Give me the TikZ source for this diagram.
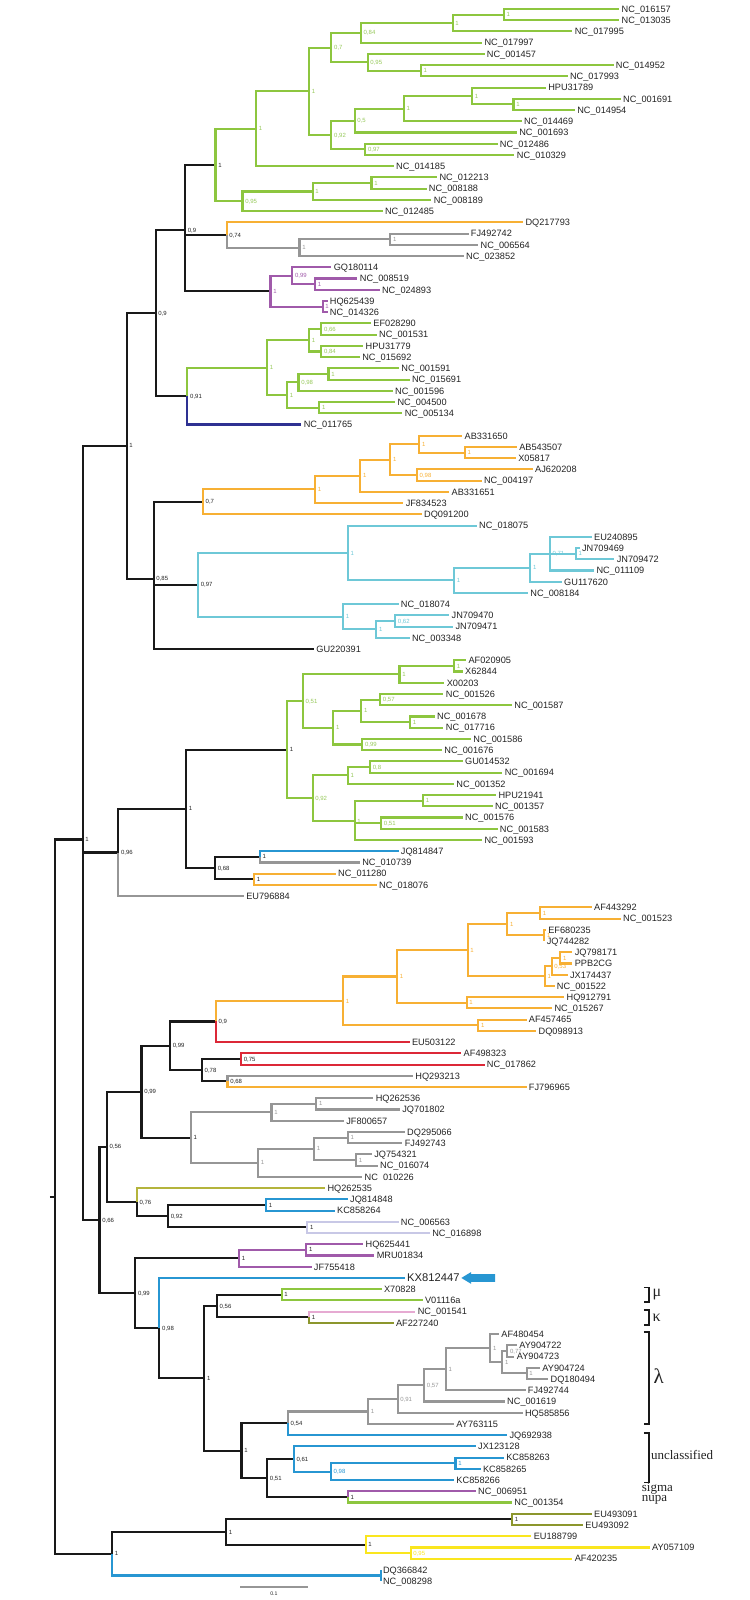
\documentclass[tikz,border=0pt]{standalone}
\usepackage{fontspec}
\setmainfont{Liberation Sans}
\newfontfamily\serifx{Liberation Serif}
\definecolor{cG}{RGB}{141,198,63}
\definecolor{cGl}{RGB}{150,200,90}
\definecolor{cO}{RGB}{247,176,52}
\definecolor{cGr}{RGB}{150,150,150}
\definecolor{cP}{RGB}{160,90,170}
\definecolor{cN}{RGB}{46,49,146}
\definecolor{cC}{RGB}{110,200,215}
\definecolor{cB}{RGB}{39,150,210}
\definecolor{cR}{RGB}{220,40,55}
\definecolor{cOl}{RGB}{140,150,45}
\definecolor{cK}{RGB}{180,180,60}
\definecolor{cL}{RGB}{200,200,230}
\definecolor{cPk}{RGB}{230,170,210}
\definecolor{cY}{RGB}{250,230,30}
\definecolor{cK0}{RGB}{25,25,25}
\definecolor{cT}{RGB}{35,35,35}
\newcommand\PhLeaf[4]{\node[lf] (#1) at (#2,#3) {#4};}
\newcommand\PhNode[5]{\coordinate (#1) at (#2,#3);\node[sl,text=#4] (#1s) at (#1) {#5};}
\newcommand\PhBr[3]{\draw[br,#1] (#2) |- (#3);}
\begin{document}
\begin{tikzpicture}[x=0.24155pt,y=-5.615pt,
  lf/.style={anchor=west,inner xsep=1pt,inner ysep=0pt,text height=3.3pt,text depth=0pt,font=\fontsize{4.6}{5}\selectfont,text=cT},
  sl/.style={anchor=west,inner xsep=1.2pt,inner ysep=0pt,text height=2.1pt,text depth=0pt,font=\fontsize{3}{3.5}\selectfont},
  br/.style={line width=1.05pt},
  brk/.style={line width=0.8pt,cK0},
  grk/.style={anchor=west,inner sep=0pt,font=\serifx\fontsize{8}{9}\selectfont,text=cT},
  grpcap/.style={anchor=west,inner sep=0pt,font=\serifx\fontsize{6.5}{7}\selectfont,text=cT}]
\useasboundingbox (0,0.1986) rectangle (1552.5,142.68);
% ---------------- leaves
\PhLeaf{L1}{1282}{1}{NC\_016157}
\PhLeaf{L2}{1282}{2}{NC\_013035}
\PhLeaf{L3}{1185}{3}{NC\_017995}
\PhLeaf{L4}{998}{4}{NC\_017997}
\PhLeaf{L5}{1003}{5}{NC\_001457}
\PhLeaf{L6}{1270}{6}{NC\_014952}
\PhLeaf{L7}{1175}{7}{NC\_017993}
\PhLeaf{L8}{1130}{8}{HPU31789}
\PhLeaf{L9}{1285}{9}{NC\_001691}
\PhLeaf{L10}{1190}{10}{NC\_014954}
\PhLeaf{L11}{1080}{11}{NC\_014469}
\PhLeaf{L12}{1070}{12}{NC\_001693}
\PhLeaf{L13}{1030}{13}{NC\_012486}
\PhLeaf{L14}{1065}{14}{NC\_010329}
\PhLeaf{L15}{815}{15}{NC\_014185}
\PhLeaf{L16}{905}{16}{NC\_012213}
\PhLeaf{L17}{883}{17}{NC\_008188}
\PhLeaf{L18}{893}{18}{NC\_008189}
\PhLeaf{L19}{792}{19}{NC\_012485}
\PhLeaf{L20}{1083}{20}{DQ217793}
\PhLeaf{L21}{970}{21}{FJ492742}
\PhLeaf{L22}{990}{22}{NC\_006564}
\PhLeaf{L23}{960}{23}{NC\_023852}
\PhLeaf{L24}{686}{24}{GQ180114}
\PhLeaf{L25}{740}{25}{NC\_008519}
\PhLeaf{L26}{786}{26}{NC\_024893}
\PhLeaf{L27}{678}{27}{HQ625439}
\PhLeaf{L28}{678}{28}{NC\_014326}
\PhLeaf{L29}{768}{29}{EF028290}
\PhLeaf{L30}{780}{30}{NC\_001531}
\PhLeaf{L31}{752}{31}{HPU31779}
\PhLeaf{L32}{745}{32}{NC\_015692}
\PhLeaf{L33}{826}{33}{NC\_001591}
\PhLeaf{L34}{848}{34}{NC\_015691}
\PhLeaf{L35}{813}{35}{NC\_001596}
\PhLeaf{L36}{818}{36}{NC\_004500}
\PhLeaf{L37}{833}{37}{NC\_005134}
\PhLeaf{L38}{624}{38}{NC\_011765}
\PhLeaf{L39}{957}{39}{AB331650}
\PhLeaf{L40}{1070}{40}{AB543507}
\PhLeaf{L41}{1068}{41}{X05817}
\PhLeaf{L42}{1103}{42}{AJ620208}
\PhLeaf{L43}{997}{43}{NC\_004197}
\PhLeaf{L44}{930}{44}{AB331651}
\PhLeaf{L45}{835}{45}{JF834523}
\PhLeaf{L46}{873}{46}{DQ091200}
\PhLeaf{L47}{987}{47}{NC\_018075}
\PhLeaf{L48}{1225}{48}{EU240895}
\PhLeaf{L49}{1200}{49}{JN709469}
\PhLeaf{L50}{1272}{50}{JN709472}
\PhLeaf{L51}{1230}{51}{NC\_011109}
\PhLeaf{L52}{1163}{52}{GU117620}
\PhLeaf{L53}{1093}{53}{NC\_008184}
\PhLeaf{L54}{825}{54}{NC\_018074}
\PhLeaf{L55}{930}{55}{JN709470}
\PhLeaf{L56}{938}{56}{JN709471}
\PhLeaf{L57}{848}{57}{NC\_003348}
\PhLeaf{L58}{650}{58}{GU220391}
\PhLeaf{L59}{965}{59}{AF020905}
\PhLeaf{L60}{958}{60}{X62844}
\PhLeaf{L61}{920}{61}{X00203}
\PhLeaf{L62}{918}{62}{NC\_001526}
\PhLeaf{L63}{1060}{63}{NC\_001587}
\PhLeaf{L64}{900}{64}{NC\_001678}
\PhLeaf{L65}{918}{65}{NC\_017716}
\PhLeaf{L66}{975}{66}{NC\_001586}
\PhLeaf{L67}{915}{67}{NC\_001676}
\PhLeaf{L68}{958}{68}{GU014532}
\PhLeaf{L69}{1040}{69}{NC\_001694}
\PhLeaf{L70}{940}{70}{NC\_001352}
\PhLeaf{L71}{1027}{71}{HPU21941}
\PhLeaf{L72}{1020}{72}{NC\_001357}
\PhLeaf{L73}{958}{73}{NC\_001576}
\PhLeaf{L74}{1030}{74}{NC\_001583}
\PhLeaf{L75}{998}{75}{NC\_001593}
\PhLeaf{L76}{825}{76}{JQ814847}
\PhLeaf{L77}{745}{77}{NC\_010739}
\PhLeaf{L78}{695}{78}{NC\_011280}
\PhLeaf{L79}{780}{79}{NC\_018076}
\PhLeaf{L80}{505}{80}{EU796884}
\PhLeaf{L81}{1225}{81}{AF443292}
\PhLeaf{L82}{1285}{82}{NC\_001523}
\PhLeaf{L83}{1130}{83}{EF680235}
\PhLeaf{L84}{1127}{84}{JQ744282}
\PhLeaf{L85}{1185}{85}{JQ798171}
\PhLeaf{L86}{1185}{86}{PPB2CG}
\PhLeaf{L87}{1175}{87}{JX174437}
\PhLeaf{L88}{1148}{88}{NC\_001522}
\PhLeaf{L89}{1168}{89}{HQ912791}
\PhLeaf{L90}{1143}{90}{NC\_015267}
\PhLeaf{L91}{1090}{91}{AF457465}
\PhLeaf{L92}{1110}{92}{DQ098913}
\PhLeaf{L93}{848}{93}{EU503122}
\PhLeaf{L94}{955}{94}{AF498323}
\PhLeaf{L95}{1003}{95}{NC\_017862}
\PhLeaf{L96}{855}{96}{HQ293213}
\PhLeaf{L97}{1090}{97}{FJ796965}
\PhLeaf{L98}{773}{98}{HQ262536}
\PhLeaf{L99}{828}{99}{JQ701802}
\PhLeaf{L100}{712}{100}{JF800657}
\PhLeaf{L101}{838}{101}{DQ295066}
\PhLeaf{L102}{833}{102}{FJ492743}
\PhLeaf{L103}{770}{103}{JQ754321}
\PhLeaf{L104}{782}{104}{NC\_016074}
\PhLeaf{L105}{750}{105}{NC\ \ 010226}
\PhLeaf{L106}{673}{106}{HQ262535}
\PhLeaf{L107}{720}{107}{JQ814848}
\PhLeaf{L108}{693}{108}{KC858264}
\PhLeaf{L109}{825}{109}{NC\_006563}
\PhLeaf{L110}{890}{110}{NC\_016898}
\PhLeaf{L111}{752}{111}{HQ625441}
\PhLeaf{L112}{775}{112}{MRU01834}
\PhLeaf{L113}{645}{113}{JF755418}
\node[lf,text height=4pt,font=\fontsize{5.6}{6}\selectfont] (L114) at (838,114) {KX812447};
\PhLeaf{L115}{790}{115}{X70828}
\PhLeaf{L116}{875}{116}{V01116a}
\PhLeaf{L117}{860}{117}{NC\_001541}
\PhLeaf{L118}{815}{118}{AF227240}
\PhLeaf{L119}{1033}{119}{AF480454}
\PhLeaf{L120}{1070}{120}{AY904722}
\PhLeaf{L121}{1065}{121}{AY904723}
\PhLeaf{L122}{1118}{122}{AY904724}
\PhLeaf{L123}{1135}{123}{DQ180494}
\PhLeaf{L124}{1088}{124}{FJ492744}
\PhLeaf{L125}{1045}{125}{NC\_001619}
\PhLeaf{L126}{1082}{126}{HQ585856}
\PhLeaf{L127}{940}{127}{AY763115}
\PhLeaf{L128}{1050}{128}{JQ692938}
\PhLeaf{L129}{985}{129}{JX123128}
\PhLeaf{L130}{1043}{130}{KC858263}
\PhLeaf{L131}{995}{131}{KC858265}
\PhLeaf{L132}{940}{132}{KC858266}
\PhLeaf{L133}{985}{133}{NC\_006951}
\PhLeaf{L134}{1060}{134}{NC\_001354}
\PhLeaf{L135}{1225}{135}{EU493091}
\PhLeaf{L136}{1207}{136}{EU493092}
\PhLeaf{L137}{1100}{137}{EU188799}
\PhLeaf{L138}{1345}{138}{AY057109}
\PhLeaf{L139}{1185}{139}{AF420235}
\PhLeaf{L140}{788}{140}{DQ366842}
\PhLeaf{L141}{788}{141}{NC\_008298}
% ---------------- internal nodes
\PhNode{a1}{1043}{1.5}{cGl}{1}
\PhNode{a2}{937}{2.25}{cGl}{1}
\PhNode{a3}{747}{3.125}{cGl}{0,84}
\PhNode{a5}{871}{6.5}{cGl}{1}
\PhNode{a4}{761}{5.75}{cGl}{0,95}
\PhNode{a6}{686}{4.4375}{cGl}{0,7}
\PhNode{b1}{1063}{9.5}{cGl}{1}
\PhNode{b2}{977}{8.75}{cGl}{1}
\PhNode{b3}{836}{9.875}{cGl}{1}
\PhNode{b4}{734}{10.9375}{cGl}{0,5}
\PhNode{b6}{756}{13.5}{cGl}{0,97}
\PhNode{b5}{686}{12.21875}{cGl}{0,92}
\PhNode{a7}{640}{8.328}{cGl}{1}
\PhNode{c1}{530}{11.664}{cGl}{1}
\PhNode{c2}{769}{16.5}{cGl}{1}
\PhNode{c3}{647}{17.25}{cGl}{1}
\PhNode{c4}{502}{18.125}{cGl}{0,95}
\PhNode{c5}{446}{14.894}{cT}{1}
\PhNode{d2}{808}{21.5}{cGr}{1}
\PhNode{d3}{620}{22.25}{cGr}{1}
\PhNode{d1}{469}{21.125}{cT}{0,74}
\PhNode{f2}{652}{25.5}{cP}{1}
\PhNode{f1}{605}{24.75}{cP}{0,99}
\PhNode{f3}{668}{27.5}{cP}{1}
\PhNode{fa}{560}{26.125}{cP}{1}
\PhNode{e}{383}{20.715}{cT}{0,9}
\PhNode{i1}{665}{29.5}{cGl}{0,66}
\PhNode{i2}{665}{31.5}{cGl}{0,84}
\PhNode{i3}{640}{30.5}{cGl}{1}
\PhNode{i4}{680}{33.5}{cGl}{1}
\PhNode{i5}{618}{34.25}{cGl}{0,98}
\PhNode{i6}{661}{36.5}{cGl}{1}
\PhNode{i7}{594}{35.375}{cGl}{1}
\PhNode{ia}{553}{32.94}{cGl}{1}
\PhNode{h}{388}{35.47}{cT}{0,91}
\PhNode{g}{322}{28.09}{cT}{0,9}
\PhNode{o1}{962}{40.5}{cO}{1}
\PhNode{o2}{868}{39.75}{cO}{1}
\PhNode{o3}{863}{42.5}{cO}{0,98}
\PhNode{o4}{808}{41.125}{cO}{1}
\PhNode{o5}{746}{42.5625}{cO}{1}
\PhNode{o6}{652}{43.78}{cO}{1}
\PhNode{o7}{420}{44.89}{cT}{0,7}
\PhNode{cy1}{1192}{49.5}{cC}{1}
\PhNode{cy2}{1138}{49.5}{cC}{0,71}
\PhNode{cy3}{1098}{50.75}{cC}{1}
\PhNode{cy4}{940}{51.875}{cC}{1}
\PhNode{cy5}{720}{49.44}{cC}{1}
\PhNode{cy6}{818}{55.5}{cC}{0,62}
\PhNode{cy7}{779}{56.25}{cC}{1}
\PhNode{cy8}{710}{55.125}{cC}{1}
\PhNode{cy9}{410}{52.28}{cT}{0,97}
\PhNode{k}{318}{51.72}{cT}{0,85}
\PhNode{j}{262}{39.906}{cT}{1}
\PhNode{p1a}{940}{59.5}{cGl}{1}
\PhNode{p1b}{827}{60.25}{cGl}{1}
\PhNode{p2a}{787}{62.5}{cGl}{0,57}
\PhNode{p2b}{849}{64.5}{cGl}{1}
\PhNode{p2c}{748}{63.5}{cGl}{1}
\PhNode{p2d}{750}{66.5}{cGl}{0,99}
\PhNode{p2e}{690}{65}{cGl}{1}
\PhNode{p3}{627}{62.625}{cGl}{0,51}
\PhNode{p4a}{766}{68.5}{cGl}{0,8}
\PhNode{p4b}{720}{69.25}{cGl}{1}
\PhNode{p5a}{876}{71.5}{cGl}{1}
\PhNode{p5b}{789}{73.5}{cGl}{0,51}
\PhNode{p5c}{734}{73.33}{cGl}{1}
\PhNode{p6}{647}{71.29}{cGl}{0,92}
\PhNode{pa}{594}{66.96}{cT}{1}
\PhNode{q1}{538}{76.5}{cT}{1}
\PhNode{q2}{526}{78.5}{cT}{1}
\PhNode{qa}{445}{77.5}{cT}{0,68}
\PhNode{oa}{385}{72.23}{cT}{1}
\PhNode{ma}{245}{76.115}{cT}{0,96}
\PhNode{r1}{1118}{81.5}{cO}{1}
\PhNode{r2}{1127}{83.5}{cO}{1}
\PhNode{r3}{1050}{82.5}{cO}{1}
\PhNode{r4}{1160}{85.5}{cO}{1}
\PhNode{r5}{1142}{86.25}{cO}{0,53}
\PhNode{r6}{1128}{87.125}{cO}{1}
\PhNode{r7}{968}{84.81}{cO}{1}
\PhNode{r8}{966}{89.5}{cO}{1}
\PhNode{r9}{822}{87.16}{cO}{1}
\PhNode{r10}{990}{91.5}{cO}{1}
\PhNode{r11}{710}{89.33}{cO}{1}
\PhNode{y1}{447}{91.16}{cT}{0,9}
\PhNode{z1}{499}{94.5}{cT}{0,75}
\PhNode{z2}{471}{96.5}{cT}{0,68}
\PhNode{y2}{418}{95.5}{cT}{0,78}
\PhNode{x1}{352}{93.33}{cT}{0,99}
\PhNode{g1}{655}{98.5}{cGr}{1}
\PhNode{g2}{562}{99.25}{cGr}{1}
\PhNode{g3}{720}{101.5}{cGr}{1}
\PhNode{g4}{737}{103.5}{cGr}{1}
\PhNode{g5}{650}{102.5}{cGr}{1}
\PhNode{g6}{534}{103.75}{cGr}{1}
\PhNode{x2}{395}{101.5}{cT}{1}
\PhNode{va}{293}{97.42}{cT}{0,99}
\PhNode{w2a}{551}{107.5}{cT}{1}
\PhNode{w2b}{636}{109.5}{cT}{1}
\PhNode{w2}{348}{108.5}{cT}{0,92}
\PhNode{wa}{283}{107.25}{cT}{0,76}
\PhNode{sa}{221}{102.33}{cT}{0,56}
\PhNode{pu1}{634}{111.5}{cT}{1}
\PhNode{pu}{495}{112.25}{cT}{1}
\PhNode{ab1}{583}{115.5}{cT}{1}
\PhNode{ab2}{640}{117.5}{cT}{1}
\PhNode{ab}{449}{116.5}{cT}{0,56}
\PhNode{la1}{1090}{122.5}{cGr}{1}
\PhNode{la2}{1050}{120.5}{cGr}{0,77}
\PhNode{la3}{1040}{121.5}{cGr}{1}
\PhNode{la4}{1015}{120.25}{cGr}{1}
\PhNode{la5}{923}{122.125}{cGr}{1}
\PhNode{la6}{878}{123.56}{cGr}{0,57}
\PhNode{la7}{823}{124.78}{cGr}{0,91}
\PhNode{la8}{762}{125.89}{cGr}{1}
\PhNode{ad}{596}{126.95}{cT}{0,54}
\PhNode{ai}{943}{130.5}{cB}{1}
\PhNode{ah}{685}{131.25}{cB}{0,98}
\PhNode{af}{608}{130.125}{cT}{0,61}
\PhNode{ag}{720}{133.5}{cT}{1}
\PhNode{ae}{553}{131.81}{cT}{0,51}
\PhNode{ac}{500}{129.38}{cT}{1}
\PhNode{aa}{423}{122.94}{cT}{1}
\PhNode{kx}{330}{118.47}{cT}{0,98}
\PhNode{ua}{280}{115.36}{cT}{0,99}
\PhNode{ta}{206}{108.85}{cT}{0,66}
\PhNode{lp}{171}{74.96}{cT}{1}
\PhNode{bd}{1060}{135.5}{cT}{1}
\PhNode{bf}{850}{138.5}{cY}{0,95}
\PhNode{be}{757}{137.75}{cT}{1}
\PhNode{bc}{468}{136.625}{cT}{1}
\coordinate (dq) at (788,140.5);
\PhNode{bb}{232}{138.56}{cT}{1}
\coordinate (root) at (114,106.76);
\coordinate (stub) at (103,106.76);
% ---------------- branches
\draw[br,cK0] (stub) -- (root);
\PhBr{cK0}{root}{lp} \PhBr{cK0}{root}{bb}
\PhBr{cK0}{lp}{j} \PhBr{cK0}{lp}{ma} \PhBr{cK0}{lp}{ta}
\PhBr{cK0}{j}{g} \PhBr{cK0}{j}{k}
\PhBr{cK0}{g}{e} \PhBr{cK0}{g}{h}
\PhBr{cK0}{e}{c5} \PhBr{cK0}{e}{d1} \PhBr{cK0}{e}{fa}
\PhBr{cG}{c5}{c1} \PhBr{cG}{c5}{c4}
\PhBr{cG}{c1}{a7} \PhBr{cG}{c1}{L15.west}
\PhBr{cG}{a7}{a6} \PhBr{cG}{a7}{b5}
\PhBr{cG}{a6}{a3} \PhBr{cG}{a6}{a4}
\PhBr{cG}{a3}{a2} \PhBr{cG}{a3}{L4.west}
\PhBr{cG}{a2}{a1} \PhBr{cG}{a2}{L3.west}
\PhBr{cG}{a1}{L1.west} \PhBr{cG}{a1}{L2.west}
\PhBr{cG}{a4}{L5.west} \PhBr{cG}{a4}{a5}
\PhBr{cG}{a5}{L6.west} \PhBr{cG}{a5}{L7.west}
\PhBr{cG}{b5}{b4} \PhBr{cG}{b5}{b6}
\PhBr{cG}{b4}{b3} \PhBr{cG}{b4}{L12.west}
\PhBr{cG}{b3}{b2} \PhBr{cG}{b3}{L11.west}
\PhBr{cG}{b2}{L8.west} \PhBr{cG}{b2}{b1}
\PhBr{cG}{b1}{L9.west} \PhBr{cG}{b1}{L10.west}
\PhBr{cG}{b6}{L13.west} \PhBr{cG}{b6}{L14.west}
\PhBr{cG}{c4}{c3} \PhBr{cG}{c4}{L19.west}
\PhBr{cG}{c3}{c2} \PhBr{cG}{c3}{L18.west}
\PhBr{cG}{c2}{L16.west} \PhBr{cG}{c2}{L17.west}
\PhBr{cO}{d1}{L20.west} \PhBr{cGr}{d1}{d3}
\PhBr{cGr}{d3}{d2} \PhBr{cGr}{d3}{L23.west}
\PhBr{cGr}{d2}{L21.west} \PhBr{cGr}{d2}{L22.west}
\PhBr{cP}{fa}{f1} \PhBr{cP}{fa}{f3}
\PhBr{cP}{f1}{L24.west} \PhBr{cP}{f1}{f2}
\PhBr{cP}{f2}{L25.west} \PhBr{cP}{f2}{L26.west}
\PhBr{cP}{f3}{L27.west} \PhBr{cP}{f3}{L28.west}
\PhBr{cG}{h}{ia} \PhBr{cN}{h}{L38.west}
\PhBr{cG}{ia}{i3} \PhBr{cG}{ia}{i7}
\PhBr{cG}{i3}{i1} \PhBr{cG}{i3}{i2}
\PhBr{cG}{i1}{L29.west} \PhBr{cG}{i1}{L30.west}
\PhBr{cG}{i2}{L31.west} \PhBr{cG}{i2}{L32.west}
\PhBr{cG}{i7}{i5} \PhBr{cG}{i7}{i6}
\PhBr{cG}{i5}{i4} \PhBr{cG}{i5}{L35.west}
\PhBr{cG}{i4}{L33.west} \PhBr{cG}{i4}{L34.west}
\PhBr{cG}{i6}{L36.west} \PhBr{cG}{i6}{L37.west}
\PhBr{cK0}{k}{o7} \PhBr{cK0}{k}{cy9} \PhBr{cK0}{k}{L58.west}
\PhBr{cO}{o7}{o6} \PhBr{cO}{o7}{L46.west}
\PhBr{cO}{o6}{o5} \PhBr{cO}{o6}{L45.west}
\PhBr{cO}{o5}{o4} \PhBr{cO}{o5}{L44.west}
\PhBr{cO}{o4}{o2} \PhBr{cO}{o4}{o3}
\PhBr{cO}{o2}{L39.west} \PhBr{cO}{o2}{o1}
\PhBr{cO}{o1}{L40.west} \PhBr{cO}{o1}{L41.west}
\PhBr{cO}{o3}{L42.west} \PhBr{cO}{o3}{L43.west}
\PhBr{cC}{cy9}{cy5} \PhBr{cC}{cy9}{cy8}
\PhBr{cC}{cy5}{L47.west} \PhBr{cC}{cy5}{cy4}
\PhBr{cC}{cy4}{cy3} \PhBr{cC}{cy4}{L53.west}
\PhBr{cC}{cy3}{cy2} \PhBr{cC}{cy3}{L52.west}
\PhBr{cC}{cy2}{L48.west} \PhBr{cC}{cy2}{cy1} \PhBr{cC}{cy2}{L51.west}
\PhBr{cC}{cy1}{L49.west} \PhBr{cC}{cy1}{L50.west}
\PhBr{cC}{cy8}{L54.west} \PhBr{cC}{cy8}{cy7}
\PhBr{cC}{cy7}{cy6} \PhBr{cC}{cy7}{L57.west}
\PhBr{cC}{cy6}{L55.west} \PhBr{cC}{cy6}{L56.west}
\PhBr{cK0}{ma}{oa} \PhBr{cGr}{ma}{L80.west}
\PhBr{cK0}{oa}{pa} \PhBr{cK0}{oa}{qa}
\PhBr{cG}{pa}{p3} \PhBr{cG}{pa}{p6}
\PhBr{cG}{p3}{p1b} \PhBr{cG}{p3}{p2e}
\PhBr{cG}{p1b}{p1a} \PhBr{cG}{p1b}{L61.west}
\PhBr{cG}{p1a}{L59.west} \PhBr{cG}{p1a}{L60.west}
\PhBr{cG}{p2e}{p2c} \PhBr{cG}{p2e}{p2d}
\PhBr{cG}{p2c}{p2a} \PhBr{cG}{p2c}{p2b}
\PhBr{cG}{p2a}{L62.west} \PhBr{cG}{p2a}{L63.west}
\PhBr{cG}{p2b}{L64.west} \PhBr{cG}{p2b}{L65.west}
\PhBr{cG}{p2d}{L66.west} \PhBr{cG}{p2d}{L67.west}
\PhBr{cG}{p6}{p4b} \PhBr{cG}{p6}{p5c}
\PhBr{cG}{p4b}{p4a} \PhBr{cG}{p4b}{L70.west}
\PhBr{cG}{p4a}{L68.west} \PhBr{cG}{p4a}{L69.west}
\PhBr{cG}{p5c}{p5a} \PhBr{cG}{p5c}{p5b} \PhBr{cG}{p5c}{L75.west}
\PhBr{cG}{p5a}{L71.west} \PhBr{cG}{p5a}{L72.west}
\PhBr{cG}{p5b}{L73.west} \PhBr{cG}{p5b}{L74.west}
\PhBr{cK0}{qa}{q1} \PhBr{cK0}{qa}{q2}
\PhBr{cB}{q1}{L76.west} \PhBr{cGr}{q1}{L77.west}
\PhBr{cO}{q2}{L78.west} \PhBr{cO}{q2}{L79.west}
\PhBr{cK0}{ta}{sa} \PhBr{cK0}{ta}{ua}
\PhBr{cK0}{sa}{va} \PhBr{cK0}{sa}{wa}
\PhBr{cK0}{va}{x1} \PhBr{cK0}{va}{x2}
\PhBr{cK0}{x1}{y1} \PhBr{cK0}{x1}{y2}
\PhBr{cO}{y1}{r11} \PhBr{cR}{y1}{L93.west}
\PhBr{cO}{r11}{r9} \PhBr{cO}{r11}{r10}
\PhBr{cO}{r9}{r7} \PhBr{cO}{r9}{r8}
\PhBr{cO}{r7}{r3} \PhBr{cO}{r7}{r6}
\PhBr{cO}{r3}{r1} \PhBr{cO}{r3}{r2}
\PhBr{cO}{r1}{L81.west} \PhBr{cO}{r1}{L82.west}
\PhBr{cO}{r2}{L83.west} \PhBr{cO}{r2}{L84.west}
\PhBr{cO}{r6}{r5} \PhBr{cO}{r6}{L88.west}
\PhBr{cO}{r5}{r4} \PhBr{cO}{r5}{L87.west}
\PhBr{cO}{r4}{L85.west} \PhBr{cO}{r4}{L86.west}
\PhBr{cO}{r8}{L89.west} \PhBr{cO}{r8}{L90.west}
\PhBr{cO}{r10}{L91.west} \PhBr{cO}{r10}{L92.west}
\PhBr{cK0}{y2}{z1} \PhBr{cK0}{y2}{z2}
\PhBr{cR}{z1}{L94.west} \PhBr{cR}{z1}{L95.west}
\PhBr{cGr}{z2}{L96.west} \PhBr{cO}{z2}{L97.west}
\PhBr{cGr}{x2}{g2} \PhBr{cGr}{x2}{g6}
\PhBr{cGr}{g2}{g1} \PhBr{cGr}{g2}{L100.west}
\PhBr{cGr}{g1}{L98.west} \PhBr{cGr}{g1}{L99.west}
\PhBr{cGr}{g6}{g5} \PhBr{cGr}{g6}{L105.west}
\PhBr{cGr}{g5}{g3} \PhBr{cGr}{g5}{g4}
\PhBr{cGr}{g3}{L101.west} \PhBr{cGr}{g3}{L102.west}
\PhBr{cGr}{g4}{L103.west} \PhBr{cGr}{g4}{L104.west}
\PhBr{cK}{wa}{L106.west} \PhBr{cK0}{wa}{w2}
\PhBr{cK0}{w2}{w2a} \PhBr{cK0}{w2}{w2b}
\PhBr{cB}{w2a}{L107.west} \PhBr{cB}{w2a}{L108.west}
\PhBr{cL}{w2b}{L109.west} \PhBr{cL}{w2b}{L110.west}
\PhBr{cK0}{ua}{pu} \PhBr{cK0}{ua}{kx}
\PhBr{cP}{pu}{pu1} \PhBr{cP}{pu}{L113.west}
\PhBr{cP}{pu1}{L111.west} \PhBr{cP}{pu1}{L112.west}
\PhBr{cB}{kx}{L114.west} \PhBr{cK0}{kx}{aa}
\PhBr{cK0}{aa}{ab} \PhBr{cK0}{aa}{ac}
\PhBr{cK0}{ab}{ab1} \PhBr{cK0}{ab}{ab2}
\PhBr{cG}{ab1}{L115.west} \PhBr{cG}{ab1}{L116.west}
\PhBr{cPk}{ab2}{L117.west} \PhBr{cOl}{ab2}{L118.west}
\PhBr{cK0}{ac}{ad} \PhBr{cK0}{ac}{ae}
\PhBr{cGr}{ad}{la8} \PhBr{cB}{ad}{L128.west}
\PhBr{cGr}{la8}{la7} \PhBr{cGr}{la8}{L127.west}
\PhBr{cGr}{la7}{la6} \PhBr{cGr}{la7}{L126.west}
\PhBr{cGr}{la6}{la5} \PhBr{cGr}{la6}{L125.west}
\PhBr{cGr}{la5}{la4} \PhBr{cGr}{la5}{L124.west}
\PhBr{cGr}{la4}{L119.west} \PhBr{cGr}{la4}{la3}
\PhBr{cGr}{la3}{la2} \PhBr{cGr}{la3}{la1}
\PhBr{cGr}{la2}{L120.west} \PhBr{cGr}{la2}{L121.west}
\PhBr{cGr}{la1}{L122.west} \PhBr{cGr}{la1}{L123.west}
\PhBr{cK0}{ae}{af} \PhBr{cK0}{ae}{ag}
\PhBr{cB}{af}{L129.west} \PhBr{cB}{af}{ah}
\PhBr{cB}{ah}{ai} \PhBr{cB}{ah}{L132.west}
\PhBr{cB}{ai}{L130.west} \PhBr{cB}{ai}{L131.west}
\PhBr{cP}{ag}{L133.west} \PhBr{cG}{ag}{L134.west}
\PhBr{cK0}{bb}{bc} \PhBr{cB}{bb}{dq}
\PhBr{cB}{dq}{L140.west} \PhBr{cB}{dq}{L141.west}
\PhBr{cK0}{bc}{bd} \PhBr{cK0}{bc}{be}
\PhBr{cOl}{bd}{L135.west} \PhBr{cOl}{bd}{L136.west}
\PhBr{cY}{be}{L137.west} \PhBr{cY}{be}{bf}
\PhBr{cY}{bf}{L138.west} \PhBr{cY}{bf}{L139.west}
% ---------------- arrow
\fill[cB] (955,114) -- (975,113.48) -- (975,113.66) -- (1025,113.66) -- (1025,114.34) -- (975,114.34) -- (975,114.52) -- cycle;
% ---------------- brackets and group names
\draw[brk] (1333,114.85) -- (1343,114.85) -- (1343,116.15) -- (1333,116.15);
\draw[brk] (1333,116.85) -- (1343,116.85) -- (1343,118.2) -- (1333,118.2);
\draw[brk] (1333,118.8) -- (1343,118.8) -- (1343,127.0) -- (1333,127.0);
\draw[brk] (1333,127.8) -- (1343,127.8) -- (1343,132.2) -- (1333,132.2);
\node[grk] (mu) at (1350,115.5) {μ};
\node[grk] (kappa) at (1350,117.55) {κ};
\node[grk,font=\serifx\fontsize{10.5}{11}\selectfont] (lambda) at (1352,122.7) {λ};
\node[grpcap] (uncl) at (1347,129.8) {unclassified};
\node[grpcap] (sigma) at (1328,132.8) {sigma};
\node[grpcap] (nupa) at (1328,133.8) {nupa};
% ---------------- scale bar
\draw[line width=0.8pt,cGr] (497,141.5) -- (638,141.5);
\node[anchor=center,inner sep=0pt,font=\fontsize{2.6}{3}\selectfont,text=cT] (scale) at (567,142.1) {0.1};
\end{tikzpicture}
\end{document}
